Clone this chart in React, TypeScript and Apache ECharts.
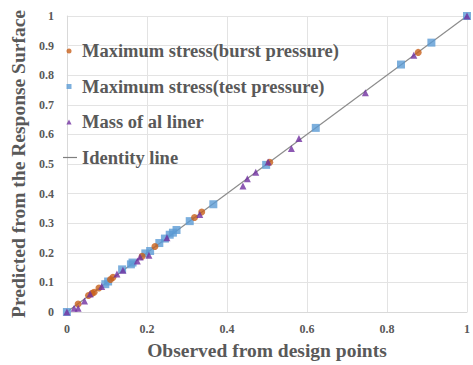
import React, { useEffect, useRef } from "react";
import * as echarts from "echarts";

const burstX = [0.028, 0.054, 0.063, 0.068, 0.08, 0.109, 0.115, 0.188, 0.22, 0.319, 0.337, 0.507, 0.878];
const burstY = [0.027, 0.056, 0.063, 0.067, 0.081, 0.11, 0.117, 0.188, 0.221, 0.319, 0.338, 0.506, 0.877];

const testX = [0, 0.096, 0.103, 0.138, 0.16, 0.164, 0.196, 0.208, 0.231, 0.245, 0.257, 0.265, 0.274, 0.307, 0.366, 0.498, 0.622, 0.835, 0.911, 1.0];
const testY = [0, 0.094, 0.103, 0.144, 0.161, 0.167, 0.198, 0.206, 0.233, 0.248, 0.261, 0.268, 0.277, 0.307, 0.364, 0.497, 0.622, 0.836, 0.91, 1.0];

const massX = [0, 0.018, 0.028, 0.044, 0.058, 0.087, 0.125, 0.14, 0.176, 0.183, 0.205, 0.25, 0.332, 0.44, 0.451, 0.472, 0.503, 0.561, 0.58, 0.746, 0.867, 1.0];
const massY = [0, 0.013, 0.013, 0.037, 0.061, 0.086, 0.128, 0.141, 0.172, 0.186, 0.192, 0.251, 0.329, 0.426, 0.45, 0.472, 0.507, 0.552, 0.586, 0.741, 0.867, 1.0];

const identityX = [0, 1];
const identityY = [0, 1];

const seriesNames = [
  "Maximum stress(burst pressure)",
  "Maximum stress(test pressure)",
  "Mass of al liner",
  "Identity line",
];

const COLORS = ["#c8601a", "#5b9bd5", "#7030a0", "#8c8c8c"];

const zip = (xs: number[], ys: number[]) => xs.map((x, i) => [x, ys[i]]);

const FONT = "'Liberation Serif', 'Times New Roman', serif";
const TEXT = "#595959";

// legend icon box is 18 x 6; the corner moves fix the bounding box so the mark keeps its size
const BOX = "M0,0 M18,0 M0,6 M18,6 ";
const ICON_CIRCLE = "path://" + BOX + "M7.5,3 A2.5,2.5 0 1,0 12.5,3 A2.5,2.5 0 1,0 7.5,3 Z";
const ICON_RECT = "path://" + BOX + "M7.5,0.5 L12.5,0.5 L12.5,5.5 L7.5,5.5 Z";
const ICON_TRI = "path://" + BOX + "M10,0.6 L12.6,5.4 L7.4,5.4 Z";
const ICON_LINE = "path://" + BOX + "M4,2.4 L18,2.4 L18,3.6 L4,3.6 Z";

export default function App() {
  const ref = useRef<HTMLDivElement>(null);
  useEffect(() => {
    if (!ref.current) return;
    const chart = echarts.init(ref.current, null, { renderer: "svg" });
    chart.setOption({
      animation: false,
      backgroundColor: "#ffffff",
      grid: { left: 62, right: 1, top: 16, bottom: 50, containLabel: false },
      legend: {
        orient: "vertical",
        left: 59,
        top: 41,
        padding: 0,
        itemGap: 15.5,
        itemWidth: 18,
        itemHeight: 6,
        textStyle: { fontFamily: FONT, fontWeight: "bold", fontSize: 18.5, color: TEXT, lineHeight: 20 },
        data: [
          { name: seriesNames[0], icon: ICON_CIRCLE, itemStyle: { color: COLORS[0], borderWidth: 0 } },
          { name: seriesNames[1], icon: ICON_RECT, itemStyle: { color: COLORS[1], borderWidth: 0 } },
          { name: seriesNames[2], icon: ICON_TRI, itemStyle: { color: COLORS[2], borderWidth: 0 } },
          { name: seriesNames[3], icon: ICON_LINE, itemStyle: { color: "#7f7f7f", borderWidth: 0 } },
        ],
      },
      xAxis: {
        type: "value",
        min: 0,
        max: 1,
        interval: 0.2,
        name: "Observed from design points",
        nameLocation: "middle",
        nameGap: 28,
        nameTextStyle: { fontFamily: FONT, fontWeight: "bold", fontSize: 19.5, color: TEXT },
        axisLine: { show: true, lineStyle: { color: "#d9d9d9" } },
        axisTick: { show: false },
        axisLabel: { fontFamily: FONT, fontWeight: "bold", fontSize: 12, color: TEXT, margin: 11 },
        splitLine: { show: true, lineStyle: { color: "#e3e3e3" } },
      },
      yAxis: {
        type: "value",
        min: 0,
        max: 1,
        interval: 0.1,
        name: "Predicted from the Response Surface",
        nameLocation: "middle",
        nameGap: 35,
        nameTextStyle: { fontFamily: FONT, fontWeight: "bold", fontSize: 19.5, color: TEXT },
        axisLine: { show: true, lineStyle: { color: "#d9d9d9" } },
        axisTick: { show: false },
        axisLabel: { fontFamily: FONT, fontWeight: "bold", fontSize: 12, color: TEXT, margin: 13 },
        splitLine: { show: true, lineStyle: { color: "#e3e3e3" } },
      },
      series: [
        {
          name: seriesNames[3],
          type: "line",
          data: zip(identityX, identityY),
          symbol: "none",
          lineStyle: { color: "#8c8c8c", width: 1.2 },
          itemStyle: { color: "#8c8c8c" },
          z: 1,
        },
        {
          name: seriesNames[0],
          type: "scatter",
          data: zip(burstX, burstY),
          symbol: "circle",
          symbolSize: 7,
          itemStyle: { color: COLORS[0] },
          z: 3,
        },
        {
          name: seriesNames[1],
          type: "scatter",
          data: zip(testX, testY),
          symbol: "rect",
          symbolSize: 8,
          itemStyle: { color: COLORS[1] },
          z: 2,
        },
        {
          name: seriesNames[2],
          type: "scatter",
          data: zip(massX, massY),
          symbol: "triangle",
          symbolSize: 7,
          itemStyle: { color: COLORS[2] },
          z: 4,
        },
      ],
    });
    return () => chart.dispose();
  }, []);
  return <div ref={ref} style={{ width: 473, height: 365, position: "absolute", left: 0, top: 0 }} />;
}
